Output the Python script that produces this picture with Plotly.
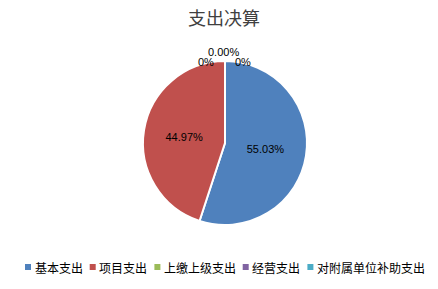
import plotly.graph_objects as go

categories = ["基本支出", "项目支出", "上缴上级支出", "经营支出", "对附属单位补助支出"]
values = [55.03, 44.97, 0, 0, 0]
label_text = ["55.03%", "44.97%", "0%", "0.00%", "0%"]
colors = ["#4F81BD", "#C0504D", "#9BBB59", "#8064A2", "#4BACC6"]

W, H = 438, 289
cx, cy, r = 225, 143, 82

fig = go.Figure(go.Pie(
    labels=categories,
    values=values,
    text=label_text,
    textinfo="text",
    textposition="inside",
    insidetextorientation="horizontal",
    sort=False,
    direction="clockwise",
    rotation=0,
    marker=dict(colors=colors, line=dict(color="white", width=2)),
    textfont=dict(family="Liberation Sans, Arial", size=11, color="#000000"),
    domain=dict(x=[(cx - r) / W, (cx + r) / W], y=[(H - cy - r) / H, (H - cy + r) / H]),
    hoverinfo="label+percent",
    showlegend=False,
))

# labels for zero-value slices (plotly does not draw them)
zero_pos = {2: (206, 54), 3: (223, 44), 4: (243, 54)}
for i, (x, y) in zero_pos.items():
    fig.add_annotation(x=x / W, y=1 - y / H, xref="paper", yref="paper",
                       text=label_text[i], showarrow=False,
                       font=dict(family="Liberation Sans, Arial", size=11, color="#000000"))

# custom single-row legend (plotly's own legend wraps at this width)
char_w, marker_w, marker_gap, item_gap = 11.8, 6, 3.5, 8
ly = 267
x = 25.0
for name, col in zip(categories, colors):
    fig.add_shape(type="rect", xref="paper", yref="paper",
                  x0=x / W, x1=(x + marker_w) / W,
                  y0=1 - (ly + marker_w / 2) / H, y1=1 - (ly - marker_w / 2) / H,
                  fillcolor=col, line=dict(width=0))
    tx = x + marker_w + marker_gap
    fig.add_annotation(x=tx / W, y=1 - ly / H, xref="paper", yref="paper",
                       xanchor="left", yanchor="middle", showarrow=False,
                       text=name, xshift=-2,
                       font=dict(family="Noto Sans CJK SC", size=12, color="#000000"))
    x = tx + char_w * len(name) + item_gap

fig.update_layout(
    width=W, height=H,
    margin=dict(l=0, r=0, t=0, b=0),
    paper_bgcolor="white",
    showlegend=False,
    title=dict(text="支出决算", x=224 / W, xanchor="center", y=1 - 19 / H, yanchor="middle",
               font=dict(family="Noto Sans CJK SC", size=18, color="#404040")),
)

fig.write_html("out.html")
